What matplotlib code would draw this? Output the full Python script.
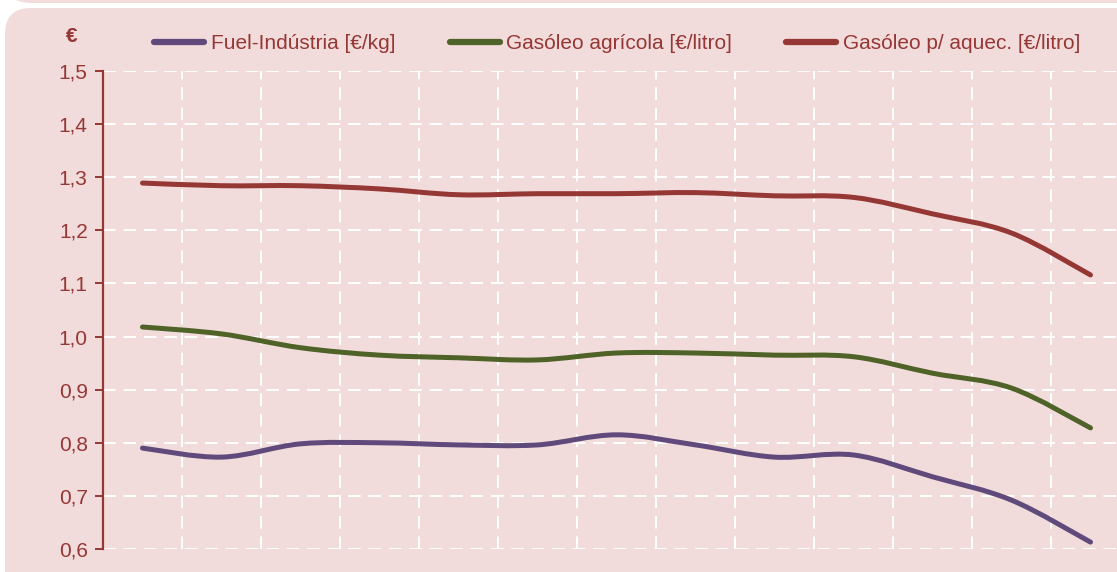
import matplotlib
matplotlib.use("Agg")
import matplotlib.pyplot as plt
from matplotlib.patches import FancyBboxPatch, PathPatch
from matplotlib.path import Path
from matplotlib.lines import Line2D

plt.rcParams['font.family'] = ['Liberation Sans', 'DejaVu Sans']

# values (13 periods, no x labels)
periodos = list(range(13))
fuel_industria = [0.790, 0.773, 0.798, 0.800, 0.796, 0.796, 0.815, 0.796, 0.773, 0.777, 0.736, 0.692, 0.613]
gasoleo_agricola = [1.018, 1.005, 0.979, 0.965, 0.960, 0.956, 0.969, 0.969, 0.965, 0.962, 0.931, 0.903, 0.828]
gasoleo_aquec = [1.289, 1.284, 1.284, 1.278, 1.267, 1.269, 1.269, 1.271, 1.265, 1.262, 1.231, 1.195, 1.116]
y_ticks = [0.6, 0.7, 0.8, 0.9, 1.0, 1.1, 1.2, 1.3, 1.4, 1.5]

series = [
    ("Fuel-Indústria [€/kg]", fuel_industria, "#604A7B"),
    ("Gasóleo agrícola [€/litro]", gasoleo_agricola, "#4F6228"),
    ("Gasóleo p/ aquec. [€/litro]", gasoleo_aquec, "#953735"),
]

pink = "#F2DCDB"
txt = "#953735"

W, H = 1117, 572
fig = plt.figure(figsize=(W / 100, H / 100), dpi=100)
fig.patch.set_facecolor("white")

# background panels in pixel units
bg = fig.add_axes([0, 0, 1, 1])
bg.set_xlim(0, W)
bg.set_ylim(H, 0)
bg.axis("off")
bg.add_patch(FancyBboxPatch((5, 8), W + 60, H + 60,
                            boxstyle="round,pad=0,rounding_size=26",
                            fc=pink, ec="none"))
bg.add_patch(FancyBboxPatch((5, -80), W + 60, 83,
                            boxstyle="round,pad=0,rounding_size=26",
                            fc=pink, ec="none"))


def smooth_path(xs, ys):
    # excel-like smoothed line drawn as cubic bezier segments
    verts = [(xs[0], ys[0])]
    codes = [Path.MOVETO]
    n = len(xs)
    for i in range(n - 1):
        x0, y0 = (xs[i - 1], ys[i - 1]) if i > 0 else (xs[i], ys[i])
        x1, y1 = xs[i], ys[i]
        x2, y2 = xs[i + 1], ys[i + 1]
        x3, y3 = (xs[i + 2], ys[i + 2]) if i + 2 < n else (x2, y2)
        c1 = (x1 + (x2 - x0) / 6, y1 + (y2 - y0) / 6)
        c2 = (x2 - (x3 - x1) / 6, y2 - (y3 - y1) / 6)
        verts += [c1, c2, (x2, y2)]
        codes += [Path.CURVE4] * 3
    return Path(verts, codes)


ax = fig.add_axes([103 / W, (H - 549) / H, 1027 / W, 478 / H])
ax.set_facecolor("none")
ax.set_xlim(-0.5, 12.5)
ax.set_ylim(0.6, 1.5)

for label, vals, col in series:
    ax.add_patch(PathPatch(smooth_path(periodos, vals), fc="none", ec=col,
                           lw=3.6, capstyle="round", joinstyle="round", zorder=3))

# grid
ax.set_xticks([i + 0.5 for i in periodos[:-1]], minor=False)
ax.set_yticks(y_ticks)
ax.set_yticklabels([f"{v:.1f}".replace(".", ",") for v in y_ticks])
ax.grid(True, color="white", linestyle=(0, (6.5, 4)), linewidth=1.4)
ax.tick_params(axis="x", length=0, labelbottom=False)
ax.tick_params(axis="y", colors=txt, labelcolor=txt, labelsize=15, length=6, width=1.4, pad=5)
for s in ["top", "right", "bottom"]:
    ax.spines[s].set_visible(False)
ax.spines["left"].set_color(txt)
ax.spines["left"].set_linewidth(1.6)

fig.text(72 / W, 1 - 36 / H, "€", color=txt, fontsize=15, fontweight="bold",
         ha="center", va="center")

handles = [Line2D([], [], color=c, lw=4.5, solid_capstyle="round") for _, _, c in series]
leg = fig.legend(handles, [s[0] for s in series], loc="center left",
                 bbox_to_anchor=(154 / W, 1 - 43.5 / H), ncol=3, frameon=False,
                 fontsize=15, handlelength=2.4, handletextpad=0.33,
                 columnspacing=2.6, borderaxespad=0, borderpad=0)
for t in leg.get_texts():
    t.set_color(txt)

fig.savefig("out.png", dpi=100, facecolor="white")
